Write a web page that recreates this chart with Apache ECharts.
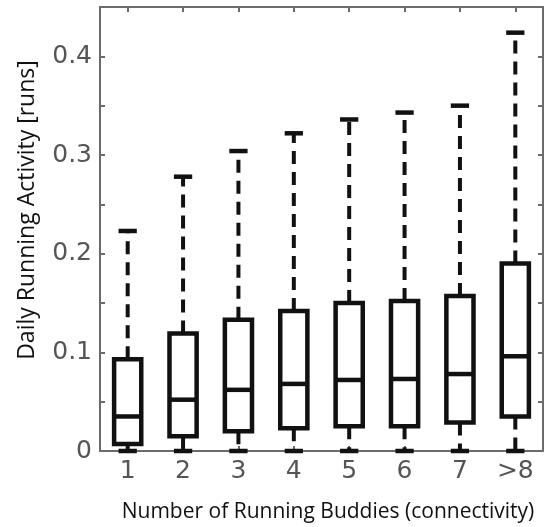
<!DOCTYPE html>
<html>
<head>
<meta charset="utf-8">
<script src="https://cdn.jsdelivr.net/npm/echarts@6/dist/echarts.min.js"></script>
<style>html,body{margin:0;padding:0;background:#fff;}#c{width:545px;height:527px;}</style>
</head>
<body>
<div id="c"></div>
<script>
var categories = ['1', '2', '3', '4', '5', '6', '7', '>8'];
var whiskerLow = [0, 0, 0, 0, 0, 0, 0, 0];
var q1 = [0.007, 0.015, 0.020, 0.023, 0.025, 0.025, 0.029, 0.035];
var medians = [0.035, 0.052, 0.062, 0.068, 0.072, 0.073, 0.078, 0.096];
var q3 = [0.093, 0.119, 0.133, 0.142, 0.150, 0.152, 0.157, 0.190];
var whiskerHigh = [0.223, 0.278, 0.304, 0.322, 0.336, 0.343, 0.350, 0.424];
var yTicks = [0, 0.1, 0.2, 0.3, 0.4];
var xTitle = 'Number of Running Buddies (connectivity)';
var yTitle = 'Daily Running Activity [runs]';

var data = categories.map(function (c, i) {
  return [i, whiskerLow[i], q1[i], medians[i], q3[i], whiskerHigh[i]];
});

var INK = '#111111';
var AXIS = '#6b6b6b';

function renderBox(params, api) {
  var xi = api.value(0);
  var band = api.size([1, 0])[0];
  var boxW = band * 0.49;
  var capW = band * 0.33;
  var pLow = api.coord([xi, api.value(1)]);
  var pQ1 = api.coord([xi, api.value(2)]);
  var pMed = api.coord([xi, api.value(3)]);
  var pQ3 = api.coord([xi, api.value(4)]);
  var pHigh = api.coord([xi, api.value(5)]);
  var cx = pQ1[0];
  var solid = {stroke: INK, lineWidth: 4.5, fill: null};
  var dashed = {stroke: INK, lineWidth: 4, lineDash: [13, 8], fill: null};
  return {
    type: 'group',
    children: [
      {type: 'line', shape: {x1: cx, y1: pQ3[1], x2: cx, y2: pHigh[1]}, style: dashed},
      {type: 'line', shape: {x1: cx, y1: pQ1[1], x2: cx, y2: pLow[1]}, style: dashed},
      {type: 'line', shape: {x1: cx - capW / 2, y1: pHigh[1], x2: cx + capW / 2, y2: pHigh[1]}, style: solid},
      {type: 'line', shape: {x1: cx - capW / 2, y1: pLow[1], x2: cx + capW / 2, y2: pLow[1]}, style: solid},
      {type: 'rect', shape: {x: cx - boxW / 2, y: pQ3[1], width: boxW, height: pQ1[1] - pQ3[1]}, style: solid},
      {type: 'line', shape: {x1: cx - boxW / 2, y1: pMed[1], x2: cx + boxW / 2, y2: pMed[1]}, style: solid}
    ]
  };
}

var chart = echarts.init(document.getElementById('c'), null, {renderer: 'canvas'});
var axisLine = {show: true, onZero: false, lineStyle: {color: AXIS, width: 2}};
var tickStyle = {show: true, inside: true, length: 5, lineStyle: {color: AXIS, width: 2}};
chart.setOption({
  animation: false,
  grid: {left: 100, right: 2, top: 7, bottom: 76},
  xAxis: [{
    type: 'category', data: categories, position: 'bottom',
    axisLine: axisLine, axisTick: Object.assign({alignWithLabel: true}, tickStyle),
    axisLabel: {color: '#555555', fontFamily: 'DejaVu Sans', fontSize: 25, margin: 8},
    splitLine: {show: false}
  }, {
    type: 'category', data: categories, position: 'top',
    axisLine: axisLine, axisTick: Object.assign({alignWithLabel: true}, tickStyle),
    axisLabel: {show: false}, splitLine: {show: false}
  }],
  yAxis: [{
    type: 'value', min: 0, max: 0.45, interval: 0.05, position: 'left',
    axisLine: axisLine, axisTick: tickStyle,
    axisLabel: {
      color: '#555555', fontFamily: 'DejaVu Sans', fontSize: 25, margin: 8,
      formatter: function (v) {
        for (var k = 0; k < yTicks.length; k++) {
          if (Math.abs(v - yTicks[k]) < 1e-9) return String(yTicks[k]);
        }
        return '';
      }
    },
    splitLine: {show: false}
  }, {
    type: 'value', min: 0, max: 0.45, interval: 0.05, position: 'right',
    axisLine: axisLine, axisTick: tickStyle, axisLabel: {show: false}, splitLine: {show: false}
  }],
  graphic: [{
    type: 'text', x: 328, y: 512,
    style: {text: xTitle, fill: '#111111', font: '21px "Open Sans"', textAlign: 'center', textVerticalAlign: 'middle'}
  }, {
    type: 'text', x: 27, y: 210, rotation: Math.PI / 2,
    style: {text: yTitle, fill: '#111111', font: '23px "Open Sans"', textAlign: 'center', textVerticalAlign: 'middle'}
  }],
  series: [{
    type: 'custom',
    renderItem: renderBox,
    data: data,
    encode: {x: 0, y: [1, 2, 3, 4, 5]},
    clip: false
  }]
});
</script>
</body>
</html>
